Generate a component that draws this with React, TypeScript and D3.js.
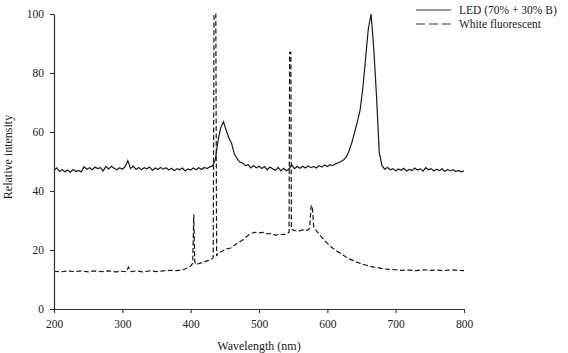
import React, { useRef, useEffect } from 'react';
import * as d3 from 'd3';

// LED spectrum, sampled every 4 nm from 200 nm
const ledStart = 200;
const ledStep = 4;
const ledValues = [
  47.0, 47.8, 46.6, 47.2, 46.5, 47.1, 46.4, 47.3, 46.6, 47.0,
  46.5, 48.2, 47.4, 47.9, 47.2, 48.1, 47.6, 47.9, 46.8, 48.3,
  47.5, 48.4, 47.7, 47.2, 47.9, 47.4, 48.2, 50.3, 47.6, 48.4,
  47.3, 48.0, 47.2, 47.9, 47.5, 48.1, 47.0, 47.8, 47.3, 48.0,
  47.4, 47.9, 47.1, 47.7, 46.9, 47.6, 47.2, 47.8, 46.8, 47.5,
  47.1, 47.8, 47.2, 47.9, 47.3, 48.0, 47.6, 48.2,
  48.5, 50.5, 57.0, 61.5, 63.5, 60.5, 58.0, 56.0, 52.5, 51.0,
  49.8, 49.5, 48.6, 48.9, 47.8, 48.6, 47.9, 48.4, 47.6, 48.3,
  47.2, 48.1, 47.5, 47.0, 48.0, 46.8, 47.7, 46.9, 47.5, 48.8,
  47.6, 48.3, 47.7, 48.4, 47.8, 48.5, 47.9, 48.3, 47.8, 48.6,
  48.1, 48.8, 48.3, 48.9, 48.6, 49.2, 49.6, 50.0, 50.6, 51.6,
  53.8, 56.5, 60.0, 63.5, 67.5, 75.0, 85.0, 95.0, 100.0, 88.0,
  72.0, 53.0, 48.6, 47.4, 48.0, 47.2, 47.6, 46.9, 47.5, 47.0,
  47.7, 46.8, 47.3, 46.9, 47.8, 47.1, 47.5, 46.7, 47.9, 47.2,
  47.6, 46.8, 47.4, 46.9, 47.5, 46.6, 47.3, 46.8, 47.2, 46.6,
  47.0, 46.5, 46.8,
];

// White fluorescent spectrum: [wavelength nm, relative intensity]
const fluorescent: [number, number][] = [
  [200, 12.8], [210, 12.6], [220, 12.9], [230, 12.7], [240, 12.9], [250, 12.6],
  [260, 12.9], [270, 12.7], [280, 12.9], [290, 12.6], [300, 12.8], [306, 12.6],
  [309, 14.2], [313, 12.7], [320, 12.9], [330, 12.6], [340, 12.9], [350, 12.7],
  [360, 12.9], [370, 13.1], [380, 13.0], [390, 13.4], [396, 14.0], [400, 14.6],
  [403, 15.5], [404.5, 32], [406, 16], [408, 15], [412, 15.4], [418, 15.8],
  [424, 16.3], [430, 16.8], [433, 17.5], [434.2, 100], [436.8, 100], [438, 18],
  [440, 19], [446, 19.6], [452, 20.4], [458, 20.6], [464, 21.6], [470, 22.5],
  [476, 23.4], [482, 24.6], [488, 25.6], [494, 26.0], [500, 25.8], [506, 26.0],
  [512, 25.5], [518, 25.6], [524, 25.0], [530, 25.4], [536, 25.2], [541, 25.5],
  [544, 26], [544.8, 87], [546.6, 87], [547.4, 27], [552, 26.6], [558, 26.4],
  [564, 26.8], [570, 26.6], [574, 27.2], [576.3, 35], [578, 35], [580, 28],
  [584, 26.5], [590, 24.8], [596, 23.2], [602, 21.8], [608, 20.6], [614, 19.6],
  [620, 18.8], [626, 17.8], [632, 17.0], [638, 16.4], [644, 15.8], [650, 15.3],
  [656, 14.9], [662, 14.5], [668, 14.2], [674, 14.0], [680, 13.7], [690, 13.4],
  [700, 13.3], [710, 13.1], [720, 13.2], [730, 13.0], [740, 13.3], [750, 13.1],
  [760, 13.2], [770, 13.0], [780, 13.3], [790, 13.1], [800, 13.0],
];

const xTicks = [200, 300, 400, 500, 600, 700, 800];
const yTicks = [0, 20, 40, 60, 80, 100];
const legendLabels = ['LED (70% + 30% B)', 'White fluorescent'];

const width = 568;
const height = 353;
const font = '"Liberation Serif", "Times New Roman", serif';

const App = () => {
  const svgRef = useRef<SVGSVGElement>(null);

  useEffect(() => {
    const svg = d3.select(svgRef.current);
    svg.selectAll('*').remove();

    const x = d3.scaleLinear().domain([200, 800]).range([54, 464]);
    const y = d3.scaleLinear().domain([0, 100]).range([309, 14]);

    const led: [number, number][] = ledValues.map((v, i) => [ledStart + i * ledStep, v]);

    const line = d3.line<[number, number]>()
      .x(d => x(d[0]))
      .y(d => y(d[1]));

    svg.append('path')
      .datum(fluorescent)
      .attr('d', line)
      .attr('fill', 'none')
      .attr('stroke', '#1a1a1a')
      .attr('stroke-width', 1.2)
      .attr('stroke-dasharray', '5,2.5');

    svg.append('path')
      .datum(led)
      .attr('d', line)
      .attr('fill', 'none')
      .attr('stroke', '#1a1a1a')
      .attr('stroke-width', 1.2);

    const xAxis = svg.append('g')
      .attr('transform', `translate(0,${y(0)})`)
      .call(d3.axisBottom(x).tickValues(xTicks).tickSize(4).tickSizeOuter(0).tickPadding(7));
    const yAxis = svg.append('g')
      .attr('transform', `translate(${x(200)},0)`)
      .call(d3.axisLeft(y).tickValues(yTicks).tickSize(4).tickSizeOuter(0).tickPadding(6));

    [xAxis, yAxis].forEach(g => {
      g.attr('font-family', font).attr('font-size', 11.5);
      g.select('.domain').attr('stroke', '#333').attr('stroke-width', 1.2);
      g.selectAll('.tick line').attr('stroke', '#333').attr('stroke-width', 1.1);
      g.selectAll('.tick text').attr('fill', '#222');
    });

    svg.append('text')
      .attr('x', 259)
      .attr('y', 349.5)
      .attr('text-anchor', 'middle')
      .attr('font-family', font)
      .attr('font-size', 12)
      .attr('fill', '#222')
      .text('Wavelength (nm)');

    svg.append('text')
      .attr('transform', 'translate(12,157) rotate(-90)')
      .attr('text-anchor', 'middle')
      .attr('font-family', font)
      .attr('font-size', 12)
      .attr('fill', '#222')
      .text('Relative intensity');

    const legend = svg.append('g');
    legendLabels.forEach((label, i) => {
      const ly = 10 + i * 14;
      legend.append('line')
        .attr('x1', 416).attr('x2', 451)
        .attr('y1', ly).attr('y2', ly)
        .attr('stroke', '#333')
        .attr('stroke-width', 1.2)
        .attr('stroke-dasharray', i === 1 ? '9,4' : null);
      legend.append('text')
        .attr('x', 459)
        .attr('y', ly)
        .attr('dy', '0.35em')
        .attr('font-family', font)
        .attr('font-size', 11.5)
        .attr('fill', '#222')
        .text(label);
    });
  }, []);

  return (
    <svg
      ref={svgRef}
      width={width}
      height={height}
      style={{ position: 'absolute', left: 0, top: 0, background: '#fff' }}
    />
  );
};

export default App;
